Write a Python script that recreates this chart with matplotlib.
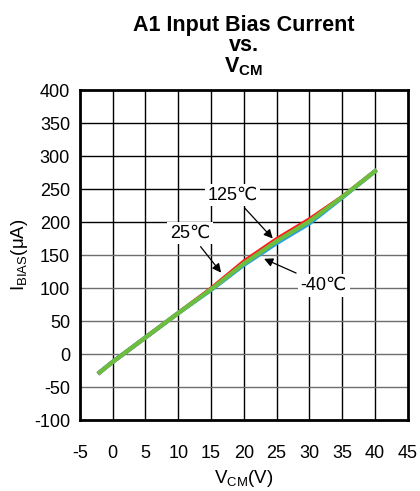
"""A1 input bias current vs. common-mode voltage."""

import matplotlib

matplotlib.use("Agg")
import matplotlib.pyplot as plt

plt.rcParams["font.family"] = ["Liberation Sans", "DejaVu Sans"]
plt.rcParams["mathtext.fontset"] = "custom"
plt.rcParams["mathtext.rm"] = "Liberation Sans"
plt.rcParams["mathtext.bf"] = "Liberation Sans:bold"
plt.rcParams["axes.unicode_minus"] = False

VCM = [-2, 0, 5, 10, 15, 20, 25, 30, 35, 40]
IBIAS_125C = [-28, -12, 25, 62, 99, 140, 174, 204, 238, 277]
IBIAS_25C = [-28, -12, 25, 62, 98, 137, 171, 201, 238, 277]
IBIAS_M40C = [-28, -12, 25, 62, 97, 135, 168, 198, 237, 277]

X_TICKS = [-5, 0, 5, 10, 15, 20, 25, 30, 35, 40, 45]
Y_TICKS = [-100, -50, 0, 50, 100, 150, 200, 250, 300, 350, 400]


def main() -> None:
    fig = plt.figure(figsize=(4.2, 4.91), dpi=100)
    ax = fig.add_axes([0.190, 0.1446, 0.781, 0.672])

    for x in X_TICKS[1:-1]:
        ax.axvline(x, color="black", lw=1.0, zorder=1)
    for y in Y_TICKS[1:-1]:
        color = "black" if y >= 200 else "#6e6e6e"
        ax.axhline(y, color=color, lw=1.0, zorder=1)

    ax.plot(VCM, IBIAS_125C, color="#ff1a1a", lw=3, zorder=3)
    ax.plot(VCM, IBIAS_M40C, color="#2a9fe0", lw=3, zorder=3)
    ax.plot(VCM, IBIAS_25C, color="#6cbf3c", lw=3, zorder=4)

    box = dict(boxstyle="square,pad=0.15", fc="white", ec="none")
    arrow = dict(arrowstyle="-|>", color="black", lw=0.9, mutation_scale=13)
    ax.annotate("125℃", xy=(24.7, 172), xytext=(18.3, 241), fontsize=13,
                ha="center", va="center", bbox=box, arrowprops=arrow, zorder=5)
    ax.annotate("25℃", xy=(16.8, 120), xytext=(11.8, 183), fontsize=13,
                ha="center", va="center", bbox=box, arrowprops=arrow, zorder=5)
    ax.annotate("-40℃", xy=(22.7, 146), xytext=(32.2, 104), fontsize=13,
                ha="center", va="center", bbox=box, arrowprops=arrow, zorder=5)

    ax.set_xlim(-5, 45)
    ax.set_ylim(-100, 400)
    ax.set_xticks(X_TICKS)
    ax.set_yticks(Y_TICKS)
    ax.tick_params(length=0, labelsize=13)
    ax.tick_params(axis="x", pad=18)
    ax.tick_params(axis="y", pad=7)
    for spine in ax.spines.values():
        spine.set_linewidth(2)

    ax.set_xlabel(r"V$_{\mathrm{CM}}$(V)", fontsize=13.5, labelpad=4)
    ax.set_ylabel(r"I$_{\mathrm{BIAS}}$(μA)", fontsize=13.5, labelpad=3)
    ax.set_title("A1 Input Bias Current\nvs.\n" + r"V$_{\mathbf{CM}}$",
                 fontsize=15.5, fontweight="bold", linespacing=0.95, pad=13)

    fig.savefig("out.png", dpi=100)
    plt.close(fig)


if __name__ == "__main__":
    main()
